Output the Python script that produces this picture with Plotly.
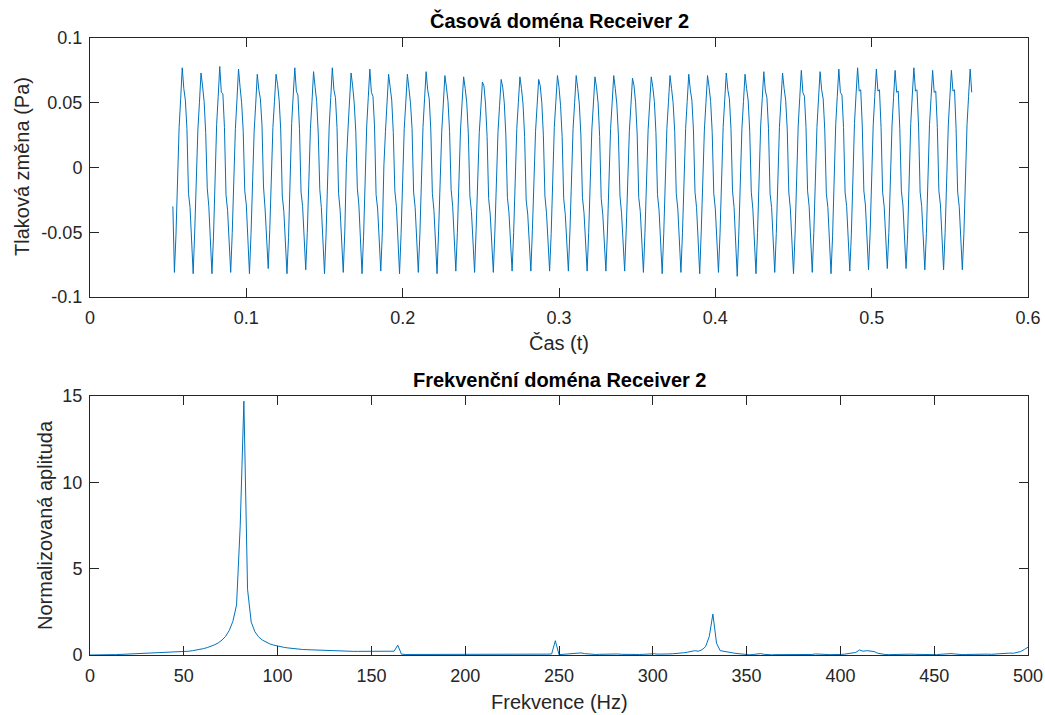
import plotly.graph_objects as go

# Receiver 2 pressure recording, sampled at 1 kHz
sample_rate = 1000.0
t_start = 0.053

pressure = [
    -0.030,
    -0.081, -0.052, -0.004, 0.031, 0.053, 0.077, 0.061, 0.052, 0.030, -0.020, -0.031, -0.055,
    -0.082, -0.049, 0.002, 0.029, 0.050, 0.073, 0.063, 0.051, 0.027, -0.016, -0.030, -0.057,
    -0.082, -0.053, -0.006, 0.033, 0.055, 0.078, 0.058, 0.057, 0.031, -0.021, -0.033, -0.054,
    -0.081, -0.050, 0.001, 0.030, 0.052, 0.076, 0.062, 0.050, 0.028, -0.018, -0.029, -0.058,
    -0.082, -0.051, -0.003, 0.028, 0.049, 0.072, 0.060, 0.053, 0.033, -0.015, -0.032, -0.056,
    -0.078, -0.048, 0.004, 0.031, 0.051, 0.072, 0.064, 0.052, 0.029, -0.022, -0.034, -0.059,
    -0.082, -0.054, -0.007, 0.034, 0.056, 0.077, 0.059, 0.056, 0.030, -0.019, -0.030, -0.053,
    -0.079, -0.050, 0.000, 0.030, 0.051, 0.074, 0.062, 0.051, 0.026, -0.017, -0.031, -0.057,
    -0.082, -0.052, -0.005, 0.032, 0.054, 0.077, 0.060, 0.054, 0.031, -0.020, -0.033, -0.055,
    -0.081, -0.049, 0.003, 0.029, 0.050, 0.073, 0.063, 0.050, 0.028, -0.016, -0.029, -0.058,
    -0.082, -0.053, -0.004, 0.032, 0.054, 0.076, 0.058, 0.055, 0.032, -0.021, -0.032, -0.054,
    -0.080, -0.050, 0.002, 0.028, 0.049, 0.072, 0.062, 0.052, 0.027, -0.018, -0.030, -0.057,
    -0.082, -0.051, -0.002, 0.030, 0.050, 0.072, 0.061, 0.050, 0.030, -0.019, -0.031, -0.056,
    -0.081, -0.052, -0.005, 0.031, 0.053, 0.074, 0.060, 0.053, 0.029, -0.020, -0.033, -0.055,
    -0.082, -0.049, 0.001, 0.028, 0.049, 0.071, 0.062, 0.051, 0.028, -0.017, -0.030, -0.057,
    -0.080, -0.050, -0.003, 0.029, 0.050, 0.070, 0.061, 0.050, 0.026, -0.022, -0.034, -0.056,
    -0.081, -0.048, -0.002, 0.027, 0.046, 0.066, 0.063, 0.049, 0.024, -0.024, -0.036, -0.058,
    -0.081, -0.049, -0.004, 0.028, 0.048, 0.068, 0.062, 0.050, 0.025, -0.023, -0.035, -0.057,
    -0.080, -0.050, -0.001, 0.030, 0.050, 0.070, 0.061, 0.049, 0.024, -0.025, -0.036, -0.058,
    -0.080, -0.048, -0.003, 0.028, 0.048, 0.068, 0.063, 0.050, 0.025, -0.022, -0.035, -0.057,
    -0.080, -0.051, -0.002, 0.031, 0.051, 0.071, 0.062, 0.048, 0.024, -0.024, -0.036, -0.058,
    -0.080, -0.049, 0.000, 0.030, 0.050, 0.071, 0.061, 0.049, 0.025, -0.023, -0.035, -0.057,
    -0.080, -0.050, -0.002, 0.029, 0.049, 0.070, 0.062, 0.050, 0.024, -0.024, -0.036, -0.058,
    -0.080, -0.049, -0.001, 0.030, 0.050, 0.071, 0.061, 0.049, 0.025, -0.022, -0.035, -0.057,
    -0.080, -0.048, -0.003, 0.028, 0.048, 0.069, 0.063, 0.050, 0.026, -0.023, -0.034, -0.058,
    -0.081, -0.050, -0.002, 0.029, 0.049, 0.070, 0.062, 0.051, 0.027, -0.021, -0.033, -0.057,
    -0.082, -0.051, -0.004, 0.030, 0.050, 0.071, 0.061, 0.050, 0.028, -0.020, -0.032, -0.056,
    -0.081, -0.050, -0.001, 0.030, 0.051, 0.072, 0.060, 0.052, 0.029, -0.019, -0.031, -0.057,
    -0.082, -0.049, -0.003, 0.029, 0.050, 0.071, 0.062, 0.051, 0.027, -0.020, -0.032, -0.058,
    -0.081, -0.051, -0.002, 0.031, 0.052, 0.073, 0.060, 0.053, 0.030, -0.018, -0.031, -0.059,
    -0.084, -0.052, -0.004, 0.030, 0.051, 0.072, 0.061, 0.052, 0.028, -0.019, -0.032, -0.056,
    -0.082, -0.050, -0.001, 0.032, 0.053, 0.074, 0.059, 0.054, 0.030, -0.020, -0.031, -0.057,
    -0.081, -0.051, -0.003, 0.031, 0.052, 0.073, 0.061, 0.052, 0.029, -0.019, -0.032, -0.058,
    -0.082, -0.052, -0.002, 0.032, 0.054, 0.075, 0.058, 0.055, 0.031, -0.018, -0.030, -0.056,
    -0.081, -0.050, -0.001, 0.031, 0.053, 0.074, 0.060, 0.053, 0.029, -0.020, -0.031, -0.057,
    -0.082, -0.053, -0.004, 0.033, 0.055, 0.076, 0.058, 0.056, 0.031, -0.019, -0.030, -0.055,
    -0.080, -0.052, -0.002, 0.034, 0.056, 0.077, 0.059, 0.060, 0.032, -0.018, -0.029, -0.056,
    -0.079, -0.051, -0.001, 0.033, 0.055, 0.076, 0.059, 0.060, 0.031, -0.019, -0.030, -0.055,
    -0.078, -0.050, 0.000, 0.032, 0.054, 0.075, 0.058, 0.059, 0.030, -0.018, -0.029, -0.056,
    -0.078, -0.052, -0.002, 0.034, 0.056, 0.077, 0.059, 0.060, 0.032, -0.019, -0.030, -0.055,
    -0.079, -0.051, -0.001, 0.033, 0.054, 0.075, 0.058, 0.059, 0.031, -0.018, -0.029, -0.056,
    -0.079, -0.050, 0.000, 0.032, 0.054, 0.075, 0.059, 0.060, 0.030, -0.019, -0.030, -0.055,
    -0.079, -0.051, -0.001, 0.033, 0.055, 0.076, 0.058,
]

# Normalised single-sided amplitude spectrum (0 .. fs/2)
spectrum = [
    0.00, 0.01, 0.01, 0.01, 0.01, 0.01, 0.02, 0.02, 0.03, 0.04,
    0.04, 0.05, 0.05, 0.06, 0.06, 0.07, 0.07, 0.08, 0.09, 0.10,
    0.11, 0.12, 0.13, 0.14, 0.16, 0.18, 0.20, 0.22, 0.25, 0.28,
    0.32, 0.37, 0.43, 0.50, 0.59, 0.70, 0.86, 1.08, 1.42, 1.95,
    2.90, 7.50, 14.70, 3.80, 1.90, 1.35, 1.05, 0.87, 0.74, 0.65,
    0.58, 0.52, 0.48, 0.44, 0.41, 0.38, 0.36, 0.34, 0.32, 0.31,
    0.30, 0.29, 0.28, 0.27, 0.26, 0.25, 0.24, 0.24, 0.23, 0.23,
    0.22, 0.22, 0.21, 0.21, 0.21, 0.20, 0.20, 0.20, 0.19, 0.19,
    0.19, 0.19, 0.20, 0.22, 0.57, 0.05, 0.03, 0.03, 0.04, 0.03,
    0.03, 0.02, 0.03, 0.03, 0.04, 0.03, 0.02, 0.03, 0.03, 0.02,
    0.03, 0.04, 0.03, 0.03, 0.02, 0.03, 0.04, 0.03, 0.03, 0.02,
    0.03, 0.03, 0.02, 0.01, 0.01, 0.02, 0.01, 0.02, 0.03, 0.02,
    0.03, 0.04, 0.03, 0.03, 0.04, 0.05, 0.06, 0.83, 0.02, 0.03,
    0.04, 0.05, 0.06, 0.09, 0.12, 0.08, 0.05, 0.04, 0.03, 0.04,
    0.05, 0.04, 0.03, 0.05, 0.06, 0.04, 0.03, 0.04, 0.05, 0.04,
    0.03, 0.04, 0.06, 0.08, 0.07, 0.05, 0.04, 0.05, 0.06, 0.07,
    0.08, 0.10, 0.13, 0.16, 0.21, 0.25, 0.22, 0.30, 0.48, 1.06,
    2.37, 0.68, 0.25, 0.20, 0.17, 0.14, 0.10, 0.07, 0.04, 0.02,
    0.01, 0.03, 0.06, 0.08, 0.04, 0.01, 0.01, 0.02, 0.02, 0.01,
    0.01, 0.02, 0.03, 0.02, 0.01, 0.01, 0.02, 0.03, 0.06, 0.04,
    0.02, 0.01, 0.02, 0.03, 0.02, 0.03, 0.05, 0.08, 0.12, 0.15,
    0.29, 0.22, 0.25, 0.22, 0.20, 0.10, 0.05, 0.03, 0.02, 0.03,
    0.04, 0.03, 0.02, 0.03, 0.05, 0.04, 0.03, 0.02, 0.03, 0.04,
    0.03, 0.02, 0.04, 0.06, 0.05, 0.08, 0.06, 0.03, 0.02, 0.03,
    0.04, 0.03, 0.02, 0.03, 0.04, 0.05, 0.04, 0.06, 0.08, 0.10,
    0.12, 0.11, 0.10, 0.14, 0.20, 0.32, 0.45,
]

time_ticks = [0, 0.1, 0.2, 0.3, 0.4, 0.5, 0.6]
time_tick_text = ["0", "0.1", "0.2", "0.3", "0.4", "0.5", "0.6"]
pressure_ticks = [-0.1, -0.05, 0, 0.05, 0.1]
pressure_tick_text = ["-0.1", "-0.05", "0", "0.05", "0.1"]
freq_ticks = [0, 50, 100, 150, 200, 250, 300, 350, 400, 450, 500]
amp_ticks = [0, 5, 10, 15]

LINE = "#0072BD"
AXIS = "#262626"
FONT = "Liberation Sans, Arial, sans-serif"

fig = go.Figure()
fig.add_trace(go.Scatter(
    y=pressure, x0=t_start, dx=1.0 / sample_rate, mode="lines",
    line=dict(color=LINE, width=1), xaxis="x", yaxis="y", showlegend=False,
))
fig.add_trace(go.Scatter(
    y=spectrum, x0=0.0, dx=sample_rate / len(pressure), mode="lines",
    line=dict(color=LINE, width=1), xaxis="x2", yaxis="y2", showlegend=False,
))

axis_common = dict(
    showline=True, linecolor=AXIS, linewidth=1, mirror="ticks",
    ticks="inside", ticklen=9, tickcolor=AXIS, tickwidth=1,
    showgrid=False, zeroline=False, automargin=False,
    tickfont=dict(family=FONT, size=18, color=AXIS),
)
x_common = dict(axis_common, ticklabelstandoff=4)
y_common = dict(axis_common, ticklabelstandoff=3)

TOP_DOMAIN = [0.5802, 1.0]
BOTTOM_DOMAIN = [0.0, 0.4198]

fig.update_layout(
    width=1045, height=715, autosize=False,
    margin=dict(l=90, r=17, t=38, b=60, autoexpand=False),
    paper_bgcolor="white", plot_bgcolor="white",
    font=dict(family=FONT, color=AXIS),
    xaxis=dict(domain=[0, 1], anchor="y", range=[0, 0.6],
               tickvals=time_ticks, ticktext=time_tick_text, **x_common),
    yaxis=dict(domain=TOP_DOMAIN, anchor="x", range=[-0.1, 0.1],
               tickvals=pressure_ticks, ticktext=pressure_tick_text, **y_common),
    xaxis2=dict(domain=[0, 1], anchor="y2", range=[0, 500],
                tickvals=freq_ticks, **x_common),
    yaxis2=dict(domain=BOTTOM_DOMAIN, anchor="x2", range=[0, 15],
                tickvals=amp_ticks, **y_common),
)

def paper_y(px):
    # convert a pixel row of the page into paper coordinates
    return (655 - px) / 617.0

def paper_x(px):
    return (px - 90) / 938.0

annotations = [
    dict(text="<b>Časová doména Receiver 2</b>", x=0.5, y=paper_y(21),
         font=dict(size=20, color="black")),
    dict(text="<b>Frekvenční doména Receiver 2</b>", x=0.5, y=paper_y(380),
         font=dict(size=20, color="black")),
    dict(text="Čas (t)", x=0.5, y=paper_y(343), font=dict(size=20, color=AXIS)),
    dict(text="Frekvence (Hz)", x=0.5, y=paper_y(702), font=dict(size=20, color=AXIS)),
    dict(text="Tlaková změna (Pa)", x=paper_x(22), y=paper_y(167), textangle=-90,
         font=dict(size=20, color=AXIS)),
    dict(text="Normalizovaná aplituda", x=paper_x(45), y=paper_y(525), textangle=-90,
         font=dict(size=20, color=AXIS)),
]
for a in annotations:
    a.update(xref="paper", yref="paper", showarrow=False,
             xanchor="center", yanchor="middle")
    a["font"]["family"] = FONT
fig.update_layout(annotations=annotations)

fig.write_html("out.html")
